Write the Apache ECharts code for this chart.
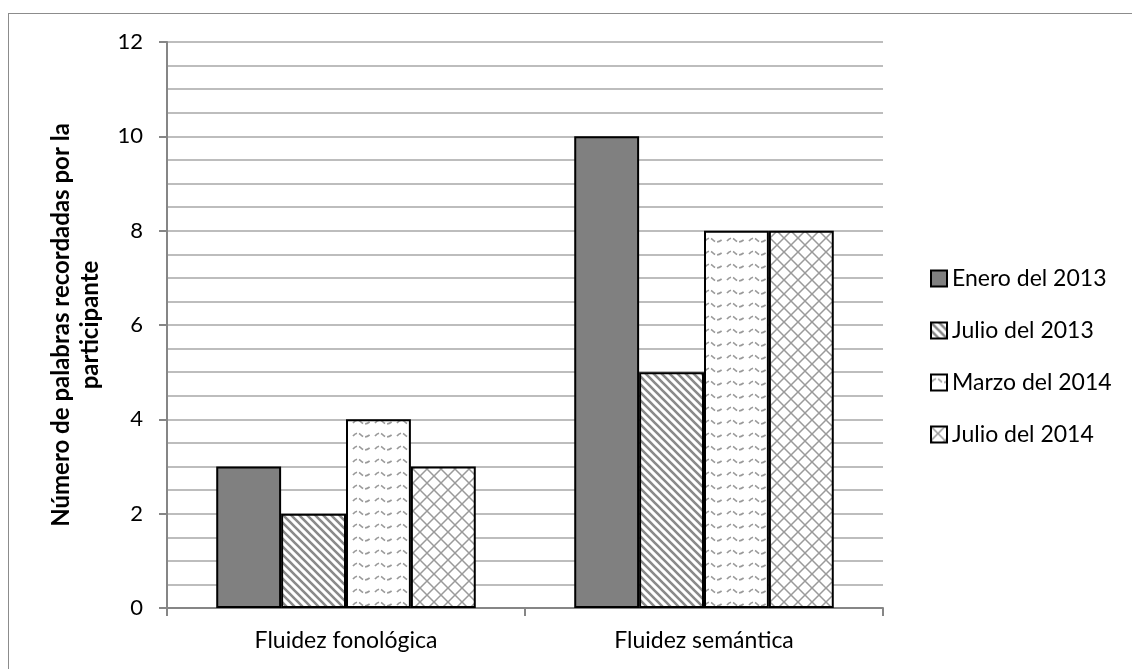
<!DOCTYPE html>
<html>
<head>
<meta charset="utf-8">
<script src="https://cdn.jsdelivr.net/npm/echarts@6/dist/echarts.min.js"></script>
<style>
  html, body { margin: 0; padding: 0; background: #fff; }
  #frame { position: absolute; left: 8px; top: 13px; width: 1140px; height: 680px; border: 1px solid #8c8c8c; box-sizing: border-box; }
  #chart { position: absolute; left: 0; top: 0; width: 1132px; height: 669px; }
</style>
</head>
<body>
<div id="frame"></div>
<div id="chart"></div>
<script>
// Categories, series and axis ticks
var categories = ['Fluidez fonológica', 'Fluidez semántica'];
var seriesNames = ['Enero del 2013', 'Julio del 2013', 'Marzo del 2014', 'Julio del 2014'];
var enero2013 = [3, 10];
var julio2013 = [2, 5];
var marzo2014 = [4, 8];
var julio2014 = [3, 8];
var yTicks = { min: 0, max: 12, step: 2 };
var yTitle = 'Número de palabras recordadas por la\nparticipante';

// Fill patterns drawn on small canvases
function makeCanvas(w, h) {
  var c = document.createElement('canvas');
  c.width = w; c.height = h;
  var ctx = c.getContext('2d');
  ctx.fillStyle = '#ffffff';
  ctx.fillRect(0, 0, w, h);
  return [c, ctx];
}
function stripePattern() {
  var r = makeCanvas(8, 8), c = r[0], ctx = r[1];
  ctx.strokeStyle = '#8a8a8a';
  ctx.lineWidth = 2.6;
  ctx.beginPath();
  for (var k = -2; k <= 2; k++) {
    ctx.moveTo(k * 8 - 2, -2);
    ctx.lineTo(k * 8 + 10, 10);
  }
  ctx.stroke();
  return c;
}
function wavePattern() {
  var r = makeCanvas(22, 13), c = r[0], ctx = r[1];
  ctx.strokeStyle = '#999999';
  ctx.lineWidth = 1.7;
  ctx.setLineDash([5, 2]);
  ctx.beginPath();
  ctx.moveTo(1, 7);
  ctx.quadraticCurveTo(5, 2, 9, 6);
  ctx.quadraticCurveTo(13, 10, 19, 5);
  ctx.stroke();
  return c;
}
function crossPattern() {
  var r = makeCanvas(14, 14), c = r[0], ctx = r[1];
  ctx.strokeStyle = '#9a9a9a';
  ctx.lineWidth = 1.5;
  ctx.beginPath();
  ctx.moveTo(0, 0); ctx.lineTo(14, 14);
  ctx.moveTo(14, 0); ctx.lineTo(0, 14);
  ctx.stroke();
  return c;
}

var fills = [
  '#808080',
  { image: stripePattern(), repeat: 'repeat' },
  { image: wavePattern(), repeat: 'repeat' },
  { image: crossPattern(), repeat: 'repeat' }
];
var values = [enero2013, julio2013, marzo2014, julio2014];

var font = 'Lato, "Open Sans", sans-serif';

var chart = echarts.init(document.getElementById('chart'), null, { renderer: 'canvas' });
chart.setOption({
  animation: false,
  backgroundColor: 'transparent',
  grid: { left: 167, right: 249, top: 42, bottom: 61, containLabel: false },
  legend: {
    orient: 'vertical',
    left: 925,
    top: 262,
    itemWidth: 16,
    itemHeight: 16,
    itemGap: 29,
    icon: 'rect',
    textStyle: { fontFamily: font, fontSize: 23, color: '#000' },
    data: seriesNames
  },
  xAxis: {
    type: 'category',
    data: categories,
    axisLine: { lineStyle: { color: '#868686', width: 2 } },
    axisTick: { show: true, length: 8, alignWithLabel: false, lineStyle: { color: '#868686', width: 2 } },
    axisLabel: { fontFamily: font, fontSize: 23, color: '#000', margin: 21 }
  },
  yAxis: {
    type: 'value',
    min: yTicks.min,
    max: yTicks.max,
    interval: yTicks.step,
    name: yTitle,
    nameLocation: 'middle',
    nameGap: 62,
    nameTextStyle: { fontFamily: font, fontSize: 24, fontWeight: 'bold', color: '#000', lineHeight: 29 },
    axisLine: { show: true, lineStyle: { color: '#868686', width: 2 } },
    axisTick: { show: true, length: 8, lineStyle: { color: '#868686', width: 2 } },
    axisLabel: { fontFamily: font, fontSize: 22, color: '#000', margin: 24 },
    splitLine: { show: true, lineStyle: { color: '#bdbdbd', width: 2 } },
    minorTick: { show: false, splitNumber: 4 },
    minorSplitLine: { show: true, lineStyle: { color: '#bdbdbd', width: 2 } }
  },
  series: seriesNames.map(function (name, i) {
    return {
      name: name,
      type: 'bar',
      data: values[i],
      barGap: '0%',
      barCategoryGap: '27.5%',
      itemStyle: { color: fills[i], borderColor: '#000', borderWidth: 2 }
    };
  })
});
</script>
</body>
</html>
